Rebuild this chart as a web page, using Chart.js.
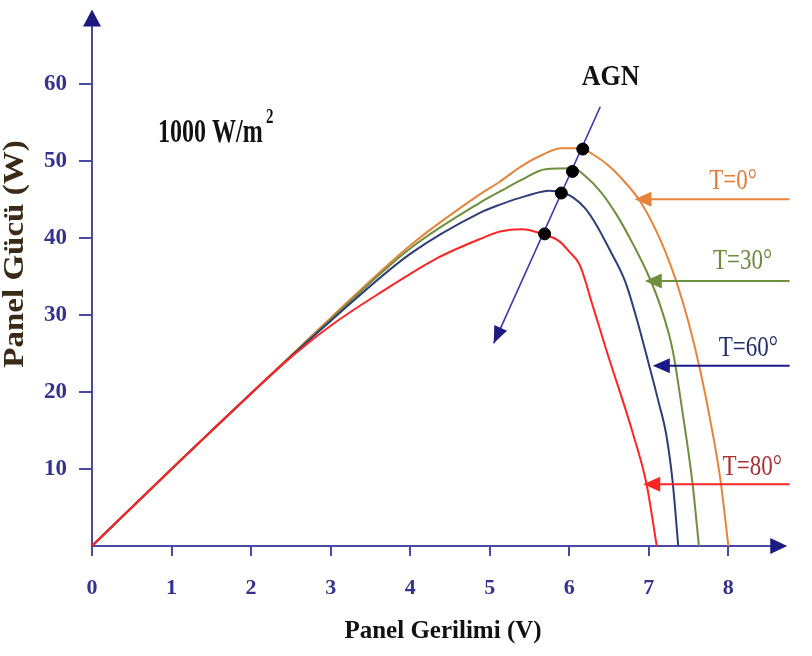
<!DOCTYPE html>
<html><head><meta charset="utf-8">
<script src="https://cdn.jsdelivr.net/npm/chart.js@4"></script>
<style>html,body{margin:0;padding:0;background:#fff}canvas{display:block}</style>
</head><body>
<canvas id="c" width="812" height="656"></canvas>
<script>
// ---- data ----
const xTicks = [0,1,2,3,4,5,6,7,8];
const yTicks = [10,20,30,40,50,60];
const seriesNames = ['T=0°','T=30°','T=60°','T=80°'];

const vT0 = [0,1,2,3,4,4.87,5.13,5.4,5.67,5.9,6.13,6.3,6.5,6.7,6.88,7.05,7.2,7.35,7.5,7.65,7.8,7.9,8.0];
const pT0 = [0,10,19.8,29.6,39.0,45.6,47.3,49.3,50.8,51.6,51.6,50.8,49.3,47.2,44.9,41.8,38.4,34.2,29.0,22.6,14.8,8.6,0];

const vT30 = [0,1,2,3,4,4.87,5.13,5.4,5.7,6.05,6.2,6.4,6.6,6.8,7.0,7.15,7.3,7.42,7.55,7.63];
const pT30 = [0,10,19.8,29.4,38.6,44.5,46.0,47.5,48.9,49.0,48.0,45.9,42.9,39.2,35.0,31.0,25.4,17.6,8.1,0];

const vT60 = [0,1,2,3,4,4.87,5.13,5.45,5.75,5.9,6.05,6.2,6.35,6.5,6.7,6.85,7.01,7.12,7.22,7.3,7.37];
const pT60 = [0,10,19.8,29.2,37.9,43.2,44.3,45.4,46.1,45.9,45.2,43.8,41.5,38.6,34.4,29.4,23.2,18.8,14.4,8.3,0];

const vT80 = [0,1,2,2.4,3.03,3.66,4.33,4.87,5.13,5.4,5.69,5.88,6.0,6.13,6.3,6.47,6.8,6.97,7.1];
const pT80 = [0,10,19.8,23.6,28.8,33.1,37.3,39.8,40.8,41.1,40.4,39.5,38.2,36.5,31.0,25.3,14.6,8.1,0];

const mppV = [6.17,6.04,5.9,5.69];
const mppP = [51.5,48.6,45.8,40.5];

const agnV = [6.39,5.05];
const agnP = [57,26.3];

const labelArrowP = [45.0,34.4,23.4,8.0];
const labelArrowTipV = [6.82,6.95,7.05,6.93];
const labelArrowEndV = 8.77;

// ---- styles ----
const curveColors = ['#e8843a','#6e8f3e','#2f3d78','#ff2424'];
const labelTextColors = ['#e07b39','#6f8a40','#1f2f6a','#a83232'];
const labelArrowColors = ['#e8843a','#6e8f3e','#1a1a8a','#ff2424'];
const labelPos = [[8.06,46.3],[8.18,35.9],[8.25,24.7],[8.30,9.2]];
const axisColor = '#4a4aa5';
const arrowColor = '#1c1c80';
const tickColor = '#33338f';
const serif = '"Liberation Serif","Times New Roman",serif';

function pts(v,p){ return v.map((x,i)=>({x:x,y:p[i]})); }
const curves = [[vT0,pT0],[vT30,pT30],[vT60,pT60],[vT80,pT80]];

const datasets = curves.map((c,i)=>({
  label: seriesNames[i],
  data: pts(c[0],c[1]),
  showLine: true,
  borderColor: curveColors[i],
  borderWidth: 2,
  pointRadius: 0,
  cubicInterpolationMode: 'monotone',
  fill: false,
  order: 4-i
}));
datasets.push({
  label: 'AGN',
  data: pts(agnV,agnP),
  showLine: true,
  borderColor: '#3a3ab0',
  borderWidth: 1.6,
  pointRadius: 0,
  order: 0
});
datasets.push({
  label: 'MPP',
  data: pts(mppV,mppP),
  showLine: false,
  pointRadius: 6,
  pointBackgroundColor: '#000',
  pointBorderColor: '#000',
  order: -1
});

function tri(ctx, tx, ty, fx, fy, len, hw, color){
  const a = Math.atan2(ty-fy, tx-fx);
  ctx.save();
  ctx.translate(tx,ty); ctx.rotate(a);
  ctx.beginPath();
  ctx.moveTo(0,0); ctx.lineTo(-len,-hw); ctx.lineTo(-len,hw); ctx.closePath();
  ctx.fillStyle = color; ctx.fill();
  ctx.restore();
}
function sText(ctx, txt, x, y, font, color, sy, align){
  ctx.save();
  ctx.translate(x,y); ctx.scale(1,sy);
  ctx.font = font; ctx.fillStyle = color;
  ctx.textAlign = align || 'left'; ctx.textBaseline = 'alphabetic';
  ctx.fillText(txt,0,0);
  ctx.restore();
}

const deco = {
  id: 'deco',
  beforeDatasetsDraw(chart){
    const ctx = chart.ctx, xs = chart.scales.x, ys = chart.scales.y;
    const x0 = xs.getPixelForValue(0), y0 = ys.getPixelForValue(0);
    const yTop = ys.getPixelForValue(69.6), xEnd = xs.getPixelForValue(8.74);
    ctx.save();
    ctx.strokeStyle = axisColor; ctx.lineWidth = 2;
    ctx.beginPath();
    ctx.moveTo(x0, y0); ctx.lineTo(x0, yTop+10);
    ctx.moveTo(x0, y0); ctx.lineTo(xEnd-10, y0);
    ctx.stroke();
    ctx.restore();
    tri(ctx, x0, yTop, x0, y0, 17, 9, arrowColor);
    tri(ctx, xEnd, y0, x0, y0, 17, 8, arrowColor);
  },
  afterDatasetsDraw(chart){
    const ctx = chart.ctx, xs = chart.scales.x, ys = chart.scales.y;
    const X = v=>xs.getPixelForValue(v), Y = p=>ys.getPixelForValue(p);
    tri(ctx, X(agnV[1]), Y(agnP[1]), X(agnV[0]), Y(agnP[0]), 17, 7, arrowColor);
    for(let i=0;i<4;i++){
      const yy = Y(labelArrowP[i]);
      ctx.save();
      ctx.strokeStyle = labelArrowColors[i]; ctx.lineWidth = 2;
      ctx.beginPath();
      ctx.moveTo(X(labelArrowEndV), yy); ctx.lineTo(X(labelArrowTipV[i])+10, yy);
      ctx.stroke(); ctx.restore();
      tri(ctx, X(labelArrowTipV[i]), yy, X(labelArrowEndV), yy, 17, 7.5, labelArrowColors[i]);
      sText(ctx, seriesNames[i], X(labelPos[i][0]), Y(labelPos[i][1]), '23px '+serif, labelTextColors[i], 1.3, 'center');
    }
    sText(ctx, 'AGN', X(6.52), Y(59.8), 'bold 26px '+serif, '#111', 1.16, 'center');
    sText(ctx, '1000 W/m', X(0.83), Y(52.4), 'bold 24px '+serif, '#111', 1.42, 'left');
    sText(ctx, '2', 266, Y(52.4)-19, 'bold 15px '+serif, '#111', 1.4, 'left');
    sText(ctx, 'Panel Gerilimi (V)', 443, 638, 'bold 25px '+serif, '#111', 1, 'center');
    ctx.save();
    ctx.translate(23, 254); ctx.rotate(-Math.PI/2); ctx.scale(1.1,1);
    ctx.font = 'bold 30px '+serif; ctx.fillStyle = '#3a2a16';
    ctx.textAlign = 'center'; ctx.textBaseline = 'alphabetic';
    ctx.fillText('Panel Gücü (W)', 0, 0);
    ctx.restore();
  }
};

new Chart(document.getElementById('c'), {
  type: 'scatter',
  data: { datasets: datasets },
  options: {
    responsive: false,
    animation: false,
    devicePixelRatio: 1,
    layout: { padding: { left: 0, top: 4, right: 20, bottom: 0 } },
    plugins: { legend: { display: false }, tooltip: { enabled: false } },
    scales: {
      x: {
        type: 'linear', min: 0, max: 8.8,
        afterFit: s => { s.height = 110; },
        afterBuildTicks: s => { s.ticks = xTicks.map(v=>({value:v})); },
        border: { display: false },
        grid: { drawOnChartArea: false, drawTicks: true, tickLength: 10, color: axisColor, lineWidth: 2 },
        ticks: { color: tickColor, font: { family: serif, size: 22, weight: 'bold' }, padding: 19, maxRotation: 0, autoSkip: false }
      },
      y: {
        type: 'linear', min: 0, max: 67.5,
        afterFit: s => { s.width = 92; },
        afterBuildTicks: s => { s.ticks = yTicks.map(v=>({value:v})); },
        border: { display: false },
        grid: { drawOnChartArea: false, drawTicks: true, tickLength: 13, color: axisColor, lineWidth: 2 },
        ticks: { color: tickColor, font: { family: serif, size: 23, weight: 'bold' }, padding: 12, autoSkip: false }
      }
    }
  },
  plugins: [deco]
});
</script>
</body></html>
